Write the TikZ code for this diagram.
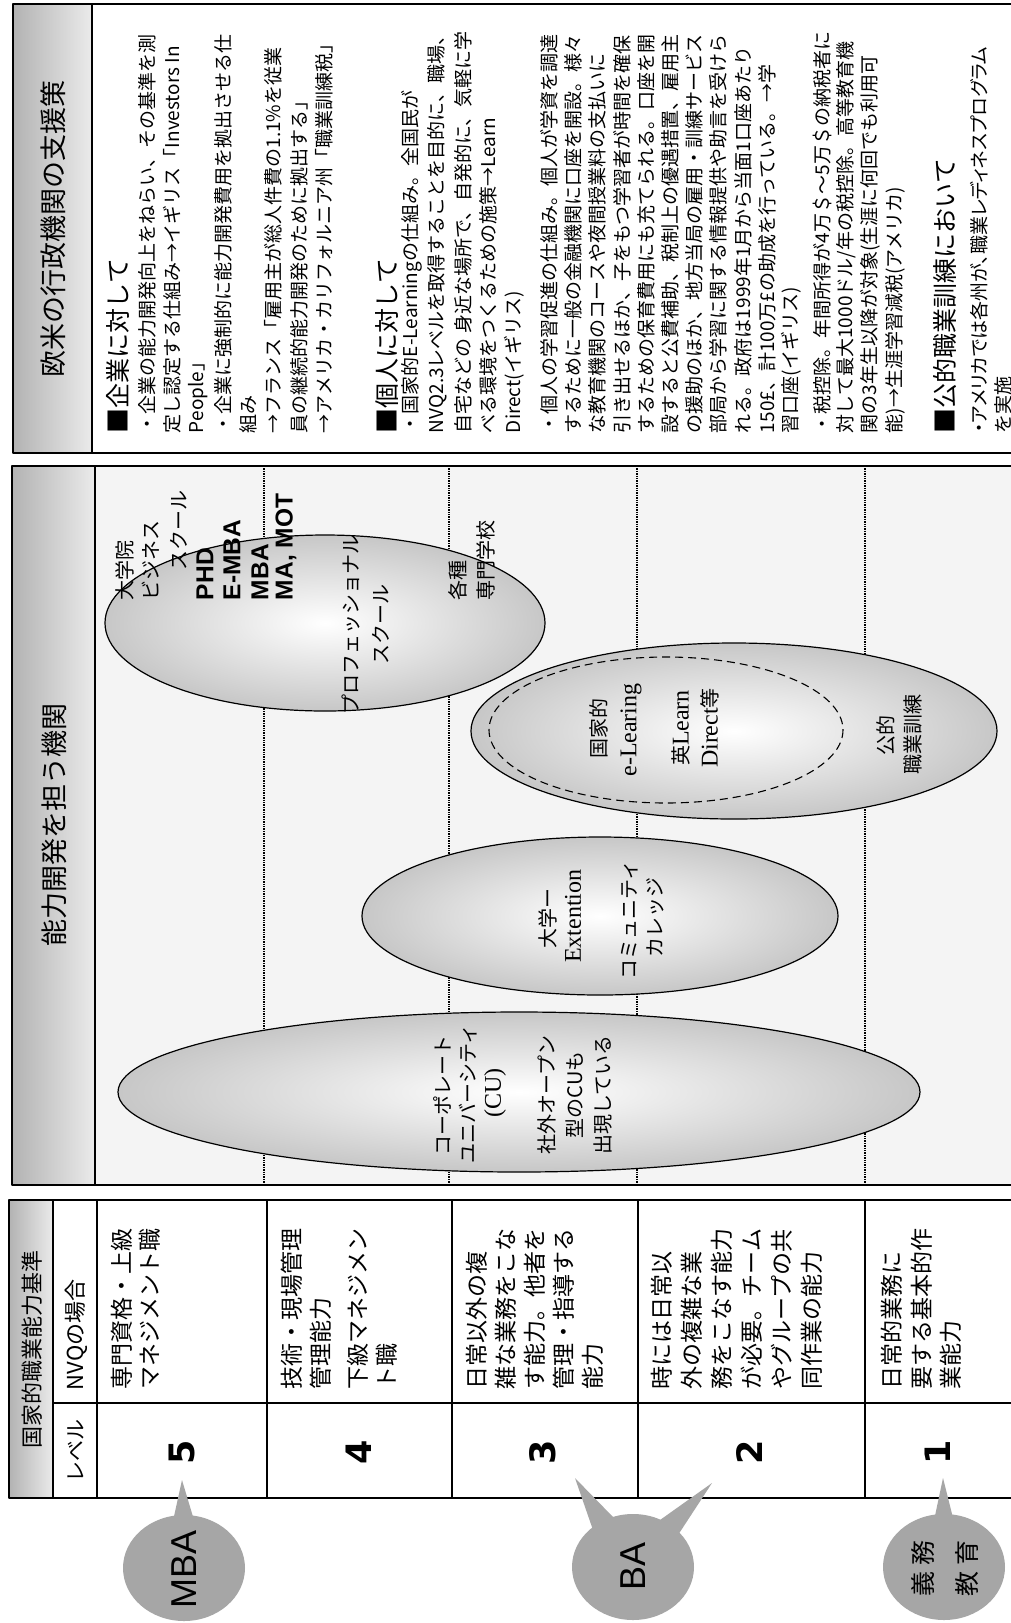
\documentclass[tikz,border=0pt]{standalone}
\usepackage{fontspec}
\usepackage{graphicx}
\setmainfont{Noto Sans CJK JP}
\newfontfamily\jpp[RawFeature=+palt]{Noto Sans CJK JP}
\newfontfamily\serifl{Liberation Serif}
\newfontfamily\sansl{Liberation Sans}
\newfontfamily\dvs{DejaVu Sans}
\usetikzlibrary{shapes.geometric}
\definecolor{panelbg}{HTML}{F4F4F4}
\definecolor{bubgray}{HTML}{A6A6A6}
\newcommand\fsz[2]{\fontsize{#1}{#2}\selectfont}
\newcommand\lt[1]{{\serifl\fontsize{24}{24}\selectfont #1}}
\tikzset{
  vt/.style={rotate=90, inner sep=0pt, outer sep=0pt},
  bodyl/.style={vt, anchor=west, font=\fsz{19}{22}},
  hdrl/.style={vt, anchor=west, font=\fsz{25}{28}},
  ttl/.style={vt, font=\fsz{27}{30}},
  celltxt/.style={vt, anchor=west, font=\fsz{23}{26}},
  lvl/.style={vt, font=\dvs\bfseries\fsz{35}{36}},
  ejp/.style={vt, font=\fsz{20}{24}},
  ejpl/.style={vt, anchor=west, font=\fsz{20}{24}},
  elat/.style={vt, font=\serifl\fsz{24}{26}},
  ebold/.style={vt, anchor=west, font=\sansl\bfseries\fsz{24.5}{26}},
  ell/.style={draw=black, line width=1.2pt, inner color=white, outer color=black!22},
  boxframe/.style={draw=black, line width=2pt},
  gridl/.style={draw=black, line width=1.6pt},
  dotl/.style={line width=2.6pt, dash pattern=on 1.4pt off 1pt},
  stripfill/.style={left color=black!30, right color=black!8},
  bub/.style={fill=bubgray},
  bubtxt/.style={vt, font=\sansl\fsz{36}{38}},
  gimu/.style={vt, font=\fsz{25}{26}}
}
\newcommand\bodyline[3]{\node[bodyl] (#1) at (#2,433) {#3};}
\begin{document}
\begin{tikzpicture}[x=1pt, y=-1pt, line join=round]
\useasboundingbox (0,0) rectangle (1011,1623);
\clip (0,0) rectangle (1011,1623);
\fill[white] (0,0) rectangle (1011,1623);

% ===== top box: support measures =====
\fill[stripfill] (13,4) rectangle (92,453);
\draw[boxframe] (13,4) rectangle (1020,453);
\draw[boxframe] (92,4) -- (92,453);
\node[ttl] (title1) at (53,229) {欧米の行政機関の支援策};

\node[hdrl] (h1) at (118,433) {■企業に対して};
\bodyline{b1}{147}{・企業の能力開発向上をねらい、その基準を測}
\bodyline{b2}{172}{定し認定する仕組み→イギリス「Investors In}
\bodyline{b3}{198}{People」}
\bodyline{b4}{223}{・企業に強制的に能力開発費用を拠出させる仕}
\bodyline{b5}{248}{組み}
\bodyline{b6}{273}{→フランス「雇用主が総人件費の1.1\%を従業}
\bodyline{b7}{299}{員の継続的能力開発のために拠出する」}
\bodyline{b8}{324}{→アメリカ・カリフォルニア州「職業訓練税」}

\node[hdrl] (h2) at (387,433) {■個人に対して};
\bodyline{b9}{412}{・国家的E-Learningの仕組み。全国民が}
\bodyline{b10}{437}{NVQ2.3レベルを取得することを目的に、職場、}
\bodyline{b11}{463}{自宅などの 身近な場所で、自発的に、気軽に学}
\bodyline{b12}{488}{べる環境をつくるための施策→Learn}
\bodyline{b13}{514}{Direct(イギリス)}
\bodyline{b14}{549}{・個人の学習促進の仕組み。個人が学資を調達}
\bodyline{b15}{573}{するために一般の金融機関に口座を開設。様々}
\bodyline{b16}{597}{な教育機関のコースや夜間授業料の支払いに}
\bodyline{b17}{622}{引き出せるほか、子をもつ学習者が時間を確保}
\bodyline{b18}{646}{するための保育費用にも充てられる。口座を開}
\bodyline{b19}{670}{設すると公費補助、税制上の優遇措置、雇用主}
\bodyline{b20}{694}{の援助のほか、地方当局の雇用・訓練サービス}
\bodyline{b21}{718}{部局から学習に関する情報提供や助言を受けら}
\bodyline{b22}{743}{れる。政府は1999年1月から当面1口座あたり}
\bodyline{b23}{767}{150£、計100万£の助成を行っている。→学}
\bodyline{b24}{791}{習口座(イギリス)}
\bodyline{b25}{822}{・税控除。年間所得が4万＄～5万＄の納税者に}
\bodyline{b26}{846}{対して最大1000ドル/年の税控除。高等教育機}
\bodyline{b27}{870}{関の3年生以降が対象(生涯に何回でも利用可}
\bodyline{b28}{895}{能)→生涯学習減税(アメリカ)}

\node[hdrl] (h3) at (945,433) {■公的職業訓練において};
\bodyline{b29}{979}{{\jpp ・アメリカでは各州が、職業レディネスプログラム}}
\bodyline{b30}{1003}{を実施}

% ===== middle box: institutions =====
\fill[panelbg] (12,466) rectangle (1020,1185);
\fill[stripfill] (12,466) rectangle (95,1185);
\draw[dotl] (264,466) -- (264,1185);
\draw[dotl] (449,466) -- (449,1185);
\draw[dotl] (637,466) -- (637,1185);
\draw[dotl] (865,466) -- (865,1185);

\path[ell] (325,623) ellipse [x radius=220, y radius=88];
\path[ell] (734,731) ellipse [x radius=263, y radius=88];
\draw[dashed, dash pattern=on 8pt off 5pt, line width=1.1pt] (666,730) ellipse [x radius=177, y radius=73];
\path[ell] (600,916) ellipse [x radius=238, y radius=79];
\path[ell] (519,1092) ellipse [x radius=401, y radius=80];

\draw[boxframe] (12,466) rectangle (1020,1185);
\draw[boxframe] (95,466) -- (95,1185);
\node[ttl] (title2) at (54,825) {能力開発を担う機関};

% ellipse 1
\node[ejpl] (e1a) at (125,600) {大学院};
\node[ejpl] (e1b) at (151,600) {ビジネス};
\node[ejpl] (e1c) at (179,570) {スクール};
\node[ebold] (e1d) at (205,600) {PHD};
\node[ebold] (e1e) at (232,600) {E-MBA};
\node[ebold] (e1f) at (260,600) {MBA};
\node[ebold] (e1g) at (286,600) {MA, MOT};
\node[vt, align=center, font=\fsz{20}{30}] (e1h) at (366,624) {プロフェッショナル\\スクール};
\node[ejpl] (e1i) at (458,600) {各種};
\node[ejpl] (e1j) at (486,600) {専門学校};

% ellipse 3
\node[ejp] (e3a) at (599,728) {国家的};
\node[elat] (e3b) at (631,730) {e-Learing};
\node[ejp] (e3c) at (681,728) {英\lt{Learn}};
\node[ejp] (e3d) at (710,728) {\lt{Direct}等};
\node[ejp] (e3e) at (886,735) {公的};
\node[ejp] (e3f) at (913,734) {職業訓練};

% ellipse 2
\node[ejp] (e2a) at (548,918) {大学ー};
\node[elat] (e2b) at (573,916) {Extention};
\node[ejp] (e2c) at (630,920) {コミュニティ};
\node[ejp] (e2d) at (655,917) {カレッジ};

% ellipse 4
\node[ejp] (e4a) at (442,1095) {コーポレート};
\node[ejp] (e4b) at (468,1094) {ユニバーシティ};
\node[elat] (e4c) at (495,1093) {(CU)};
\node[ejp] (e4d) at (547,1095) {社外オープン};
\node[ejp] (e4e) at (575,1095) {型のCUも};
\node[ejp] (e4f) at (603,1095) {出現している};

% ===== table =====
\fill[stripfill] (9,1200) rectangle (53,1498);
\draw[gridl] (53,1200) -- (53,1498);
\draw[gridl] (97,1200) -- (97,1498);
\draw[gridl] (267,1200) -- (267,1498);
\draw[gridl] (452,1200) -- (452,1498);
\draw[gridl] (638,1200) -- (638,1498);
\draw[gridl] (865,1200) -- (865,1498);
\draw[gridl] (53,1403) -- (1020,1403);
\draw[boxframe] (9,1200) rectangle (1020,1498);

\node[vt, font=\fsz{22}{24}] (th1) at (32,1349) {国家的職業能力基準};
\node[vt, anchor=west, font=\fsz{22}{24}] (th2) at (76,1390) {NVQの場合};
\node[vt, font=\fsz{21}{24}] (th3) at (76,1451) {レベル};

\node[lvl] (l5) at (182,1452) {5};
\node[lvl] (l4) at (359,1452) {4};
\node[lvl] (l3) at (543,1452) {3};
\node[lvl] (l2) at (750,1452) {2};
\node[lvl] (l1) at (938,1452) {1};

\node[celltxt] (r5a) at (122,1389) {専門資格・上級};
\node[celltxt] (r5b) at (150,1389) {マネジメント職};
\node[celltxt] (r4a) at (292,1389) {技術・現場管理};
\node[celltxt] (r4b) at (321,1389) {管理能力};
\node[celltxt] (r4c) at (358,1389) {下級マネジメン};
\node[celltxt] (r4d) at (387,1389) {ト職};
\node[celltxt] (r3a) at (477,1389) {日常以外の複};
\node[celltxt] (r3b) at (506,1389) {雑な業務をこな};
\node[celltxt] (r3c) at (535,1389) {す能力。他者を};
\node[celltxt] (r3d) at (564,1389) {管理・指導する};
\node[celltxt] (r3e) at (593,1389) {能力};
\node[celltxt] (r2a) at (662,1389) {時には日常以};
\node[celltxt] (r2b) at (692,1389) {外の複雑な業};
\node[celltxt] (r2c) at (722,1389) {務をこなす能力};
\node[celltxt] (r2d) at (752,1389) {が必要。チーム};
\node[celltxt] (r2e) at (782,1389) {やグループの共};
\node[celltxt] (r2f) at (812,1389) {同作業の能力};
\node[celltxt] (r1a) at (892,1389) {日常的業務に};
\node[celltxt] (r1b) at (922,1389) {要する基本的作};
\node[celltxt] (r1c) at (951,1389) {業能力};

% ===== callout bubbles =====
\fill[bub] (184,1568) ellipse [x radius=61, y radius=53];
\fill[bub] (182,1480) -- (171,1530) -- (197,1530) -- cycle;
\node[bubtxt] (mba) at (184,1569) {MBA};

\fill[bub] (633,1567) ellipse [x radius=61, y radius=53];
\fill[bub] (575,1478) -- (593,1530) -- (614,1518) -- cycle;
\fill[bub] (712,1483) -- (660,1520) -- (678,1535) -- cycle;
\node[bubtxt] (ba) at (633,1566) {BA};

\fill[bub] (944,1567) ellipse [x radius=61, y radius=53];
\fill[bub] (943,1478) -- (932,1530) -- (956,1530) -- cycle;
\node[gimu] (gm1) at (923,1568) {義\hspace{6pt}務};
\node[gimu] (gm2) at (967,1568) {教\hspace{6pt}育};
\end{tikzpicture}
\end{document}
